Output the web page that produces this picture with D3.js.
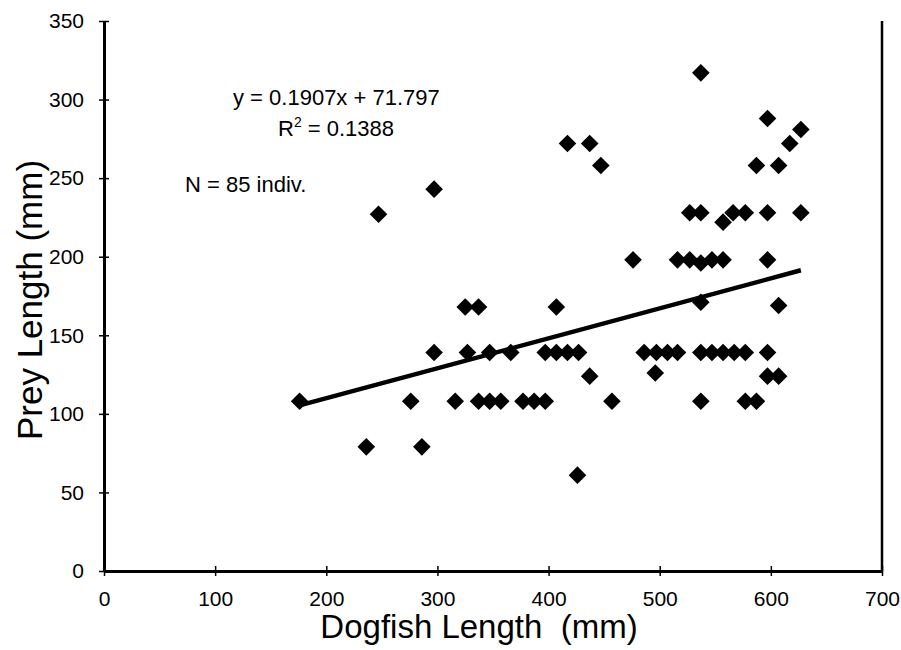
<!DOCTYPE html>
<html>
<head>
<meta charset="utf-8">
<script src="https://cdn.jsdelivr.net/npm/d3@7"></script>
<style>
  body { margin: 0; background: #fff; }
  text { font-family: "Liberation Sans", Arial, sans-serif; fill: #000; white-space: pre; }
</style>
</head>
<body>
<script>
// dogfish length (mm) / prey length (mm)
dogfish = [176, 276, 316, 337, 347, 357, 377, 387, 397, 457, 537, 577, 587,
  297, 327, 347, 366, 397, 407, 417, 427, 486, 497, 507, 516, 537, 547, 557, 567, 577, 597,
  476, 516, 527, 537, 547, 557, 597,
  247, 527, 537, 566, 577, 597, 627,
  297, 417, 437, 447, 537, 597, 627, 617, 587, 607, 557, 537, 607,
  325, 337, 407, 437, 426, 236, 286, 496, 597, 607]
prey = [108, 108, 108, 108, 108, 108, 108, 108, 108, 108, 108, 108, 108,
  139, 139, 139, 139, 139, 139, 139, 139, 139, 139, 139, 139, 139, 139, 139, 139, 139, 139,
  198, 198, 198, 196, 198, 198, 198,
  227, 228, 228, 228, 228, 228, 228,
  243, 272, 272, 258, 317, 288, 281, 272, 258, 258, 222, 171, 169,
  168, 168, 168, 124, 61, 79, 79, 126, 124, 124]

xTicks = [0, 100, 200, 300, 400, 500, 600, 700]
yTicks = [0, 50, 100, 150, 200, 250, 300, 350]
slope = 0.1907
intercept = 71.797

data = dogfish.map((d, i) => ({x: d, y: prey[i]}))

margin = ({top: 21, right: 19, bottom: 79, left: 104})
width = 901
height = 650

x = d3.scaleLinear()
  .domain([0, 700])
  .range([margin.left, width - margin.right])

y = d3.scaleLinear()
  .domain([0, 350])
  .range([height - margin.bottom, margin.top])

xAxis = g => g
  .attr("transform", `translate(0,${height - margin.bottom})`)
  .call(d3.axisBottom(x).tickValues(xTicks).tickSizeOuter(0).tickPadding(14))
  .call(g => g.select(".domain").attr("stroke-width", 3))
  .call(g => g.selectAll(".tick line").attr("y1", -5).attr("y2", 5).attr("stroke-width", 1.5))
  .call(g => g.selectAll(".tick text").attr("font-size", 21).attr("font-family", "Liberation Sans"))

yAxis = g => g
  .attr("transform", `translate(${margin.left},0)`)
  .call(d3.axisLeft(y).tickValues(yTicks).tickSizeOuter(0).tickPadding(14))
  .call(g => g.select(".domain").attr("stroke-width", 3))
  .call(g => g.selectAll(".tick line").attr("x1", -5).attr("x2", 5).attr("stroke-width", 1.5))
  .call(g => g.selectAll(".tick text").attr("font-size", 21).attr("font-family", "Liberation Sans"))

const svg = d3.select("body").append("svg")
  .attr("width", width)
  .attr("height", height)
  .attr("viewBox", [0, 0, width, height])

// right frame edge
svg.append("line")
  .attr("x1", x(700)).attr("x2", x(700))
  .attr("y1", y(350)).attr("y2", y(0))
  .attr("stroke", "#000")
  .attr("stroke-width", 2.5)

svg.append("g").call(xAxis)
svg.append("g").call(yAxis)

svg.append("g")
  .selectAll("path")
  .data(data)
  .join("path")
  .attr("d", d3.symbol(d3.symbolSquare, 155))
  .attr("transform", d => `translate(${x(d.x)},${y(d.y)}) rotate(45)`)
  .attr("fill", "#000")

// linear trendline over the data range
const [x0, x1] = d3.extent(dogfish)
svg.append("line")
  .attr("x1", x(x0)).attr("y1", y(slope * x0 + intercept))
  .attr("x2", x(x1)).attr("y2", y(slope * x1 + intercept))
  .attr("stroke", "#000")
  .attr("stroke-width", 4.5)

const note = svg.append("g").attr("font-size", 22)
note.append("text").attr("x", 233).attr("y", 105)
  .text(`y = ${slope}x + ${intercept}`)
const r2 = note.append("text").attr("x", 278).attr("y", 136)
r2.append("tspan").text("R")
r2.append("tspan").attr("font-size", 14).attr("dy", -9).text("2")
r2.append("tspan").attr("dy", 9).text(" = 0.1388")
note.append("text").attr("x", 185).attr("y", 192).text("N = 85 indiv.")

svg.append("text")
  .attr("x", 479)
  .attr("y", 638)
  .attr("text-anchor", "middle")
  .attr("font-size", 33)
  .text("Dogfish Length  (mm)")

svg.append("text")
  .attr("transform", `translate(42,${(y(0) + y(350)) / 2 + 4}) rotate(-90)`)
  .attr("text-anchor", "middle")
  .attr("font-size", 35)
  .text("Prey Length (mm)")
</script>
</body>
</html>
